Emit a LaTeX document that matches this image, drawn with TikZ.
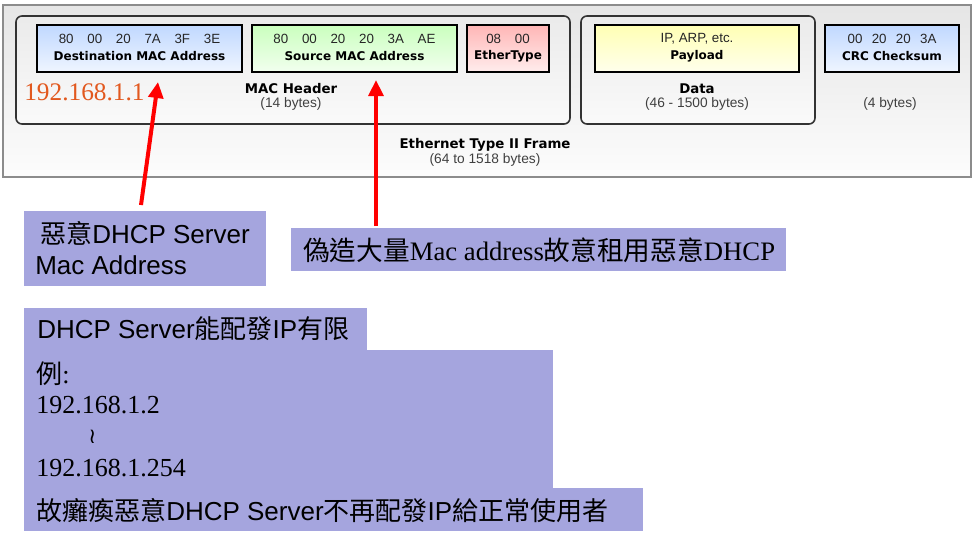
\documentclass[tikz,border=0pt]{standalone}
\usepackage{fontspec}
\usetikzlibrary{arrows.meta}
\newfontfamily\dv{DejaVu Sans}
\newfontfamily\ar{Liberation Sans}
\newfontfamily\tm{Liberation Serif}
\newfontfamily\cjk{Noto Sans CJK TC}
\definecolor{lav}{RGB}{165,165,222}
\definecolor{ipred}{RGB}{226,88,30}
\definecolor{blueF}{RGB}{192,216,255}
\definecolor{greenF}{RGB}{202,255,190}
\definecolor{redF}{RGB}{255,182,182}
\definecolor{yellowF}{RGB}{255,255,180}
\newcommand{\gp}{\hspace{10.3pt}}
\tikzset{
  field/.style={draw=black,line width=1.5pt},
  group/.style={draw=black!80,line width=1.2pt,rounded corners=4.5pt,top color=black!8,bottom color=black!2},
  num/.style={font=\ar\fontsize{10}{12}\selectfont,text=black!85,inner sep=0pt},
  lbl/.style={font=\dv\bfseries\fontsize{9}{11}\selectfont,inner sep=0pt},
  ttl/.style={font=\dv\bfseries\fontsize{10}{12}\selectfont,inner sep=0pt},
  sub/.style={font=\ar\fontsize{10.3}{12}\selectfont,text=black!75,inner sep=0pt},
  note/.style={fill=lav,draw=none},
  big/.style={inner sep=0pt,anchor=west,font=\fontsize{19.5}{23}\selectfont},
  redarrow/.style={draw=red,line width=3pt,-{Triangle[length=12pt,width=11pt]}}
}
\begin{document}
\begin{tikzpicture}[x=0.75pt,y=-0.75pt]
\useasboundingbox (0,0) rectangle (978,539);
% outer frame
\draw[draw=black!45,line width=0.8pt,top color=black!10,bottom color=black!1] (3,5) rectangle (971,177);
% groups
\draw[group] (16,16) rectangle (570,124);
\draw[group] (581,16) rectangle (815,124);
% fields
\draw[field,top color=blueF,bottom color=blueF!25!white] (37,25) rectangle (242,72);
\draw[field,top color=greenF,bottom color=greenF!25!white] (252,25) rectangle (457,72);
\draw[field,top color=redF,bottom color=redF!25!white] (467,25) rectangle (549,72);
\draw[field,top color=yellowF,bottom color=yellowF!25!white] (595,25) rectangle (799,72);
\draw[field,top color=blueF,bottom color=blueF!25!white] (825,25) rectangle (959,72);
% field texts
\node[num] (dnum) at (139.5,39) {80\gp 00\gp 20\gp 7A\gp 3F\gp 3E};
\node[lbl] (dlbl) at (139.5,56) {Destination MAC Address};
\node[num] (snum) at (354.5,39) {80\gp 00\gp 20\gp 20\gp 3A\gp AE};
\node[lbl] (slbl) at (354.5,56) {Source MAC Address};
\node[num] (enum) at (508,39) {08\gp 00};
\node[lbl] (elbl) at (508,56) {EtherType};
\node[num] (pnum) at (697,39) {IP, ARP, etc.};
\node[lbl] (plbl) at (697,56) {Payload};
\node[num] (cnum) at (892,39) {00\hspace{7pt}20\hspace{7pt}20\hspace{7pt}3A};
\node[lbl] (clbl) at (892,56) {CRC Checksum};
% group titles
\node[ttl] (mh) at (291,89) {MAC Header};
\node[sub] (mhs) at (291,104) {(14 bytes)};
\node[ttl] (dt) at (697,89) {Data};
\node[sub] (dts) at (697,104) {(46 - 1500 bytes)};
\node[sub] (crs) at (890,104) {(4 bytes)};
\node[ttl] (fr) at (485,145) {Ethernet Type II Frame};
\node[sub] (frs) at (485,160) {(64 to 1518 bytes)};
% ip label
\node[inner sep=0pt,anchor=west,text=ipred,font=\tm\fontsize{19}{22}\selectfont] (ip) at (24,92) {192.168.1.1};
% note boxes
\fill[note] (24,211) rectangle (266,286);
\fill[note] (291,228) rectangle (786,271);
\fill[note] (24,308) rectangle (367,350);
\fill[note] (24,350) rectangle (553,488);
\fill[note] (24,488) rectangle (643,531);
\node[big] (n1a) at (40,233) {{\cjk 惡意}{\ar DHCP Server}};
\node[big] (n1b) at (35,265) {\ar Mac Address};
\node[big,font=\fontsize{20}{23}\selectfont] (n2) at (303,250) {{\cjk 偽造大量}{\tm Mac address}{\cjk 故意租用惡意}{\tm DHCP}};
\node[big] (n3) at (37,329) {{\ar DHCP Server}{\cjk 能配發}{\ar IP}{\cjk 有限}};
\node[big] (n4) at (36,374) {{\cjk 例}{\tm :}};
\node[big] (n5) at (36,405) {\tm 192.168.1.2};
\node[big] (n6) at (88,437) {{\dv\fontsize{16}{18}\selectfont ≀}};
\node[big] (n7) at (36,468) {\tm 192.168.1.254};
\node[big] (n8) at (36,511) {{\cjk 故癱瘓惡意}{\ar DHCP Server}{\cjk 不再配發}{\ar IP}{\cjk 給正常使用者}};
% arrows
\coordinate (a1s) at (141,205);
\coordinate (a1e) at (158,82);
\coordinate (a2s) at (376,226);
\coordinate (a2e) at (376,80);
\draw[redarrow] (a1s) -- (a1e);
\draw[redarrow] (a2s) -- (a2e);
\end{tikzpicture}
\end{document}
